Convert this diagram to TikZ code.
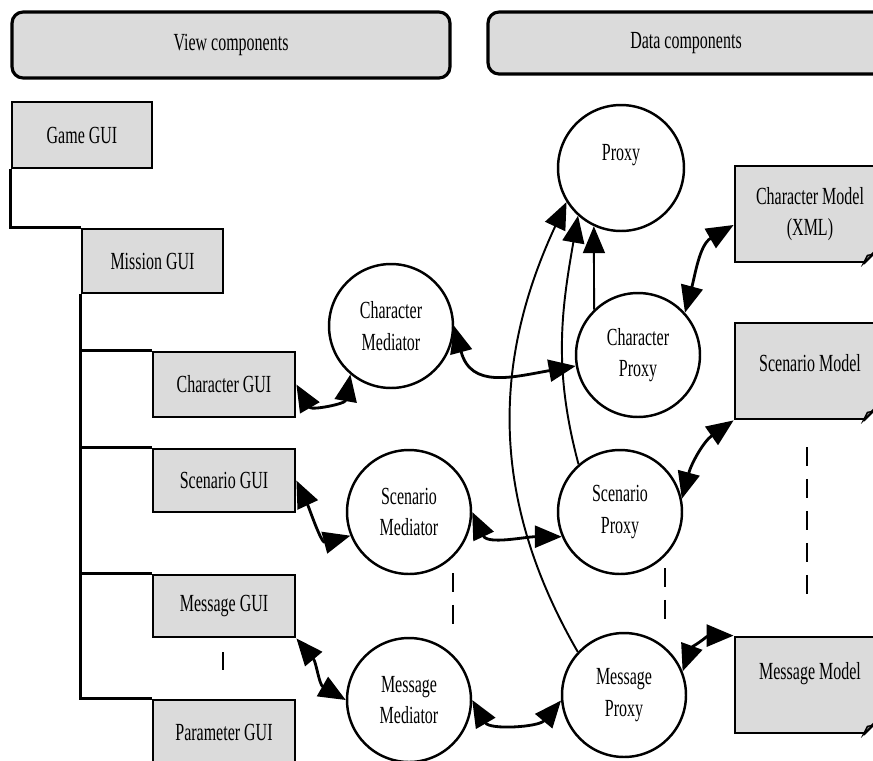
\documentclass[tikz,border=0pt]{standalone}
\usepackage{fontspec}
\setmainfont{Liberation Serif}[FakeStretch=0.65]
\usetikzlibrary{arrows.meta, calc}

\definecolor{boxgray}{gray}{0.86}

\tikzset{
  header/.style={draw, line width=1.8pt, fill=boxgray, rounded corners=0.22cm},
  guibox/.style={draw, line width=1.6pt, fill=boxgray, minimum width=2.84cm, minimum height=1.28cm, inner sep=0pt},
  blob/.style={circle, draw, line width=1.4pt, fill=white, minimum size=2.48cm, inner sep=0pt, align=center},
  modelbox/.style={draw, line width=1.6pt, fill=boxgray, minimum width=3cm, minimum height=1.92cm, inner sep=0pt, align=center},
  link/.style={<->, line width=1.6pt},
  feed/.style={->, line width=1.1pt},
  elided/.style={line width=1.4pt, dash pattern=on 0.38cm off 0.26cm},
}

\begin{document}
\begin{tikzpicture}[x=0.02cm, y=-0.02cm, >={Triangle[length=0.54cm,width=0.44cm]}, font=\fontsize{14}{18}\selectfont]
  \useasboundingbox (0,0) rectangle (873,761);

  % Headers
  \node[header, minimum width=8.76cm, minimum height=1.32cm] (viewhead) at (231,45) {View components};
  \node[header, minimum width=7.92cm, minimum height=1.24cm] (datahead) at (686,43) {Data components};

  % View side
  \node[guibox, minimum width=2.8cm, minimum height=1.32cm] (game) at (82,135) {Game GUI};
  \node[guibox, minimum width=2.82cm] (mission) at (152.5,261) {Mission GUI};
  \node[guibox, minimum height=1.3cm] (cgui) at (224,384.5) {Character GUI};
  \node[guibox, minimum height=1.26cm] (sgui) at (224,480.5) {Scenario GUI};
  \node[guibox, minimum height=1.24cm] (mgui) at (224,606) {Message GUI};
  \node[guibox] (pgui) at (224,732) {Parameter GUI};

  \draw[line width=1.6pt] (game.south west) |- (mission.north west);
  \foreach \g in {cgui, sgui, mgui, pgui}
    \draw[line width=1.6pt] (mission.south west) |- (\g.north west);
  \draw[elided] (223,652) -- (223,670);

  % Mediators and proxies
  \node[blob] (cmed) at (391,326) {Character\\Mediator};
  \node[blob] (smed) at (409,512) {Scenario\\Mediator};
  \node[blob] (mmed) at (409,700) {Message\\Mediator};
  \node[blob, minimum size=2.52cm] (prox) at (621,168) {Proxy\\\mbox{}};
  \node[blob] (cprox) at (638,355) {Character\\Proxy};
  \node[blob] (sprox) at (620,512) {Scenario\\Proxy};
  \node[blob] (mprox) at (624,695) {Message\\Proxy};

  % Models
  \node[modelbox] (cmodel) at (810,214) {Character Model\\(XML)};
  \node[modelbox] (smodel) at (810,371) {Scenario Model\\[-9pt]\mbox{}};
  \node[modelbox] (mmodel) at (810,685) {Message Model\\[-2pt]\mbox{}};
  \foreach \m in {cmodel, smodel, mmodel} {
    \fill[white] ($(\m.south east)+(-26,3)$) -- ($(\m.south east)+(5,3)$) -- ($(\m.south east)+(5,-28)$) -- cycle;
    \draw[line width=1.6pt] ($(\m.south east)+(-23,0)$) -- ($(\m.south east)+(0,-23)$);
    \draw[line width=0.8pt, fill=boxgray!60!black] ($(\m.south east)+(-23,0)$) -- ($(\m.south east)+(-19,-8)$) -- ($(\m.south east)+(-14,-9)$) -- cycle;
  }

  % View to mediator
  \draw[link] (cgui.east) to[out=-60, in=-100, looseness=1.4] (cmed.230);
  \draw[link] (sgui.east) to[out=-65, in=195] (smed.202);
  \draw[link] (mgui.south east) to[out=-50, in=150] (mmed.west);

  % Mediator to proxy
  \draw[link] (cmed.east) to[out=-75, in=190, looseness=1.3] (cprox.190);
  \draw[link] (smed.east) to[out=-65, in=180] (sprox.203);
  \draw[link] (mmed.east) to[out=-60, in=230] (mprox.185);

  % Up to Proxy
  \draw[feed] (cprox.134) -- (prox.245);
  \draw[feed] (sprox.131) to[out=105, in=-100] (prox.228);
  \draw[feed] (mprox.137) to[out=120, in=-115] (prox.212);

  % Proxy to model
  \draw[link] (cprox.42) to[out=75, in=210] ([yshift=-0.22cm]cmodel.west);
  \draw[link] (sprox.12) to[out=75, in=215] (smodel.south west);
  \draw[link] (mprox.22) to[out=70, in=180] (mmodel.north west);

  % Elisions
  \draw[elided] (453,573) -- (453,625);
  \draw[elided] (665,568) -- (665,620);
  \draw[elided] (807,447) -- (807,600);
\end{tikzpicture}
\end{document}
